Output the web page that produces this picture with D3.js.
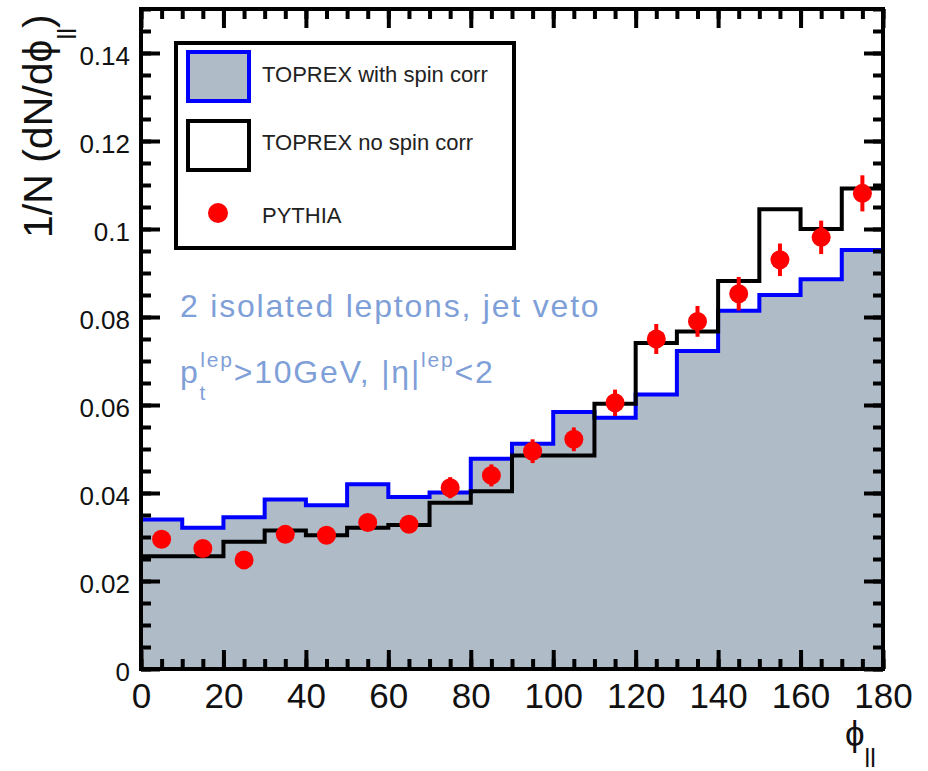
<!DOCTYPE html>
<html>
<head>
<meta charset="utf-8">
<script src="https://cdn.jsdelivr.net/npm/d3@7"></script>
<style>
  body { margin: 0; background: #fff; }
  text { font-family: "Liberation Sans", Arial, Helvetica, sans-serif; }
</style>
</head>
<body>
<svg id="chart" width="928" height="771"></svg>
<script>
// Bin edges of the lepton opening angle phi_ll (degrees)
const binEdges = [0, 10, 20, 30, 40, 50, 60, 70, 80, 90, 100, 110, 120, 130, 140, 150, 160, 170, 180];
const binCenters = [5, 15, 25, 35, 45, 55, 65, 75, 85, 95, 105, 115, 125, 135, 145, 155, 165, 175];

// TOPREX with spin correlations (filled histogram)
const toprexSpin = [0.0340, 0.0321, 0.0345, 0.0385, 0.0372, 0.0420, 0.0391, 0.0401, 0.0478,
                    0.0512, 0.0584, 0.0571, 0.0624, 0.0723, 0.0814, 0.0850, 0.0886, 0.0952];
// TOPREX without spin correlations (open histogram)
const toprexNoSpin = [0.0256, 0.0256, 0.0289, 0.0315, 0.0304, 0.0321, 0.0327, 0.0378, 0.0404,
                      0.0485, 0.0485, 0.0603, 0.0741, 0.0767, 0.0882, 0.1045, 0.1000, 0.1092];
// PYTHIA points and their errors
const pythia = [0.0295, 0.0274, 0.0248, 0.0306, 0.0304, 0.0333, 0.0329, 0.0412, 0.0440,
                0.0495, 0.0522, 0.0605, 0.0750, 0.0790, 0.0853, 0.0930, 0.0981, 0.1081];
const pythiaErr = [0.0018, 0.0018, 0.0018, 0.0018, 0.0018, 0.0019, 0.0019, 0.0024, 0.0025,
                   0.0027, 0.0027, 0.0030, 0.0034, 0.0035, 0.0038, 0.0037, 0.0038, 0.0041];

// Axis ticks and labels
const xMajorTicks = [0, 20, 40, 60, 80, 100, 120, 140, 160, 180];
const xTickLabels = ["0", "20", "40", "60", "80", "100", "120", "140", "160", "180"];
const yMajorTicks = [0, 0.02, 0.04, 0.06, 0.08, 0.10, 0.12, 0.14];
const yTickLabels = ["0", "0.02", "0.04", "0.06", "0.08", "0.1", "0.12", "0.14"];
const xMinorStep = 5, yMinorStep = 0.005;

const legendLabels = ["TOPREX with spin corr", "TOPREX no spin corr", "PYTHIA"];

const fillGrey = "#afbcc8", blue = "#0000ff", red = "#ff0000", noteColor = "#7f9fd8";

const svg = d3.select("#chart");
svg.append("rect").attr("width", 928).attr("height", 771).attr("fill", "#fff");

const x = d3.scaleLinear().domain([0, 180]).range([141, 883]);
const y = d3.scaleLinear().domain([0, 0.15]).range([669, 9]);

// Step outline of a histogram
const steps = vals => vals.flatMap((v, i) => [[binEdges[i], v], [binEdges[i + 1], v]]);
const line = d3.line().x(d => x(d[0])).y(d => y(d[1]));
const area = d3.area().x(d => x(d[0])).y0(y(0)).y1(d => y(d[1]));

const plot = svg.append("g");
plot.append("path").attr("d", area(steps(toprexSpin))).attr("fill", fillGrey);
plot.append("path").attr("d", line(steps(toprexSpin)))
  .attr("fill", "none").attr("stroke", blue).attr("stroke-width", 4);
plot.append("path").attr("d", line(steps(toprexNoSpin)))
  .attr("fill", "none").attr("stroke", "#000").attr("stroke-width", 4);

// PYTHIA error bars and markers
const pts = plot.append("g");
pts.selectAll("line").data(pythia).join("line")
  .attr("x1", (d, i) => x(binCenters[i])).attr("x2", (d, i) => x(binCenters[i]))
  .attr("y1", (d, i) => y(d - pythiaErr[i])).attr("y2", (d, i) => y(d + pythiaErr[i]))
  .attr("stroke", red).attr("stroke-width", 4);
pts.selectAll("circle").data(pythia).join("circle")
  .attr("cx", (d, i) => x(binCenters[i])).attr("cy", d => y(d))
  .attr("r", 9.5).attr("fill", red);

// Axes: ticks point inward on all four sides
function styleAxis(g) {
  g.select(".domain").remove();
  g.selectAll(".tick line").attr("stroke", "#000").attr("stroke-width", 4);
}
const xMinor = d3.range(0, 180 + 1e-9, xMinorStep);
const yMinor = d3.range(0, 0.15 + 1e-9, yMinorStep);

svg.append("g").attr("transform", "translate(0,669)")
  .call(d3.axisBottom(x).tickValues(xMinor).tickSize(-10).tickFormat("")).call(styleAxis);
const xAxis = svg.append("g").attr("transform", "translate(0,669)")
  .call(d3.axisBottom(x).tickValues(xMajorTicks).tickSize(-19).tickPadding(14)
    .tickFormat((d, i) => xTickLabels[i])).call(styleAxis);
xAxis.selectAll("text").attr("font-size", 35).attr("fill", "#111");

svg.append("g").attr("transform", "translate(0,9)")
  .call(d3.axisTop(x).tickValues(xMinor).tickSize(-10).tickFormat("")).call(styleAxis);
svg.append("g").attr("transform", "translate(0,9)")
  .call(d3.axisTop(x).tickValues(xMajorTicks).tickSize(-19).tickFormat("")).call(styleAxis);

svg.append("g").attr("transform", "translate(141,0)")
  .call(d3.axisLeft(y).tickValues(yMinor).tickSize(-10).tickFormat("")).call(styleAxis);
const yAxis = svg.append("g").attr("transform", "translate(141,0)")
  .call(d3.axisLeft(y).tickValues(yMajorTicks).tickSize(-19).tickPadding(11)
    .tickFormat((d, i) => yTickLabels[i])).call(styleAxis);
yAxis.selectAll("text").attr("font-size", 26).attr("fill", "#111").attr("dy", "0.45em");

svg.append("g").attr("transform", "translate(883,0)")
  .call(d3.axisRight(y).tickValues(yMinor).tickSize(-10).tickFormat("")).call(styleAxis);
svg.append("g").attr("transform", "translate(883,0)")
  .call(d3.axisRight(y).tickValues(yMajorTicks).tickSize(-19).tickFormat("")).call(styleAxis);

// Frame
svg.append("rect").attr("x", x(0)).attr("y", y(0.15))
  .attr("width", x(180) - x(0)).attr("height", y(0) - y(0.15))
  .attr("fill", "none").attr("stroke", "#000").attr("stroke-width", 4);

// Axis titles
const yTitle = svg.append("text").attr("transform", "translate(52,238) rotate(-90)")
  .attr("font-size", 41).attr("fill", "#111");
yTitle.append("tspan").text("1/N (dN/dϕ");
yTitle.append("tspan").attr("font-size", 26).attr("dy", 24).text("ll");
yTitle.append("tspan").attr("dy", -24).text(")");

const xTitle = svg.append("text").attr("x", 845).attr("y", 746)
  .attr("font-size", 35).attr("fill", "#111");
xTitle.append("tspan").text("ϕ");
xTitle.append("tspan").attr("font-size", 25).attr("dy", 21).text("ll");

// Legend
const leg = svg.append("g");
leg.append("rect").attr("x", 176).attr("y", 43).attr("width", 338).attr("height", 205)
  .attr("fill", "#fff").attr("stroke", "#000").attr("stroke-width", 4);
leg.append("rect").attr("x", 188).attr("y", 52).attr("width", 61).attr("height", 49)
  .attr("fill", fillGrey).attr("stroke", blue).attr("stroke-width", 4);
leg.append("rect").attr("x", 188).attr("y", 121).attr("width", 61).attr("height", 49)
  .attr("fill", "#fff").attr("stroke", "#000").attr("stroke-width", 4);
leg.append("circle").attr("cx", 218).attr("cy", 213).attr("r", 10).attr("fill", red);
leg.selectAll("text.lab").data(legendLabels).join("text").attr("class", "lab")
  .attr("x", 262).attr("y", (d, i) => [82, 150, 223][i])
  .attr("font-size", 22).attr("fill", "#222").text(d => d);

// Selection notes
const note1 = svg.append("text").attr("x", 180).attr("y", 317)
  .attr("font-size", 32).attr("letter-spacing", 1.8).attr("fill", noteColor)
  .text("2 isolated leptons, jet veto");
const note2 = svg.append("text").attr("x", 180).attr("y", 383)
  .attr("font-size", 32).attr("letter-spacing", 1.8).attr("fill", noteColor);
note2.append("tspan").text("p");
note2.append("tspan").attr("font-size", 21).attr("dy", 17).text("t");
note2.append("tspan").attr("font-size", 21).attr("dx", -7).attr("dy", -33).text("lep");
note2.append("tspan").attr("dy", 16).text(">10GeV, |η|");
note2.append("tspan").attr("font-size", 21).attr("dy", -16).text("lep");
note2.append("tspan").attr("dy", 16).text("<2");
</script>
</body>
</html>
